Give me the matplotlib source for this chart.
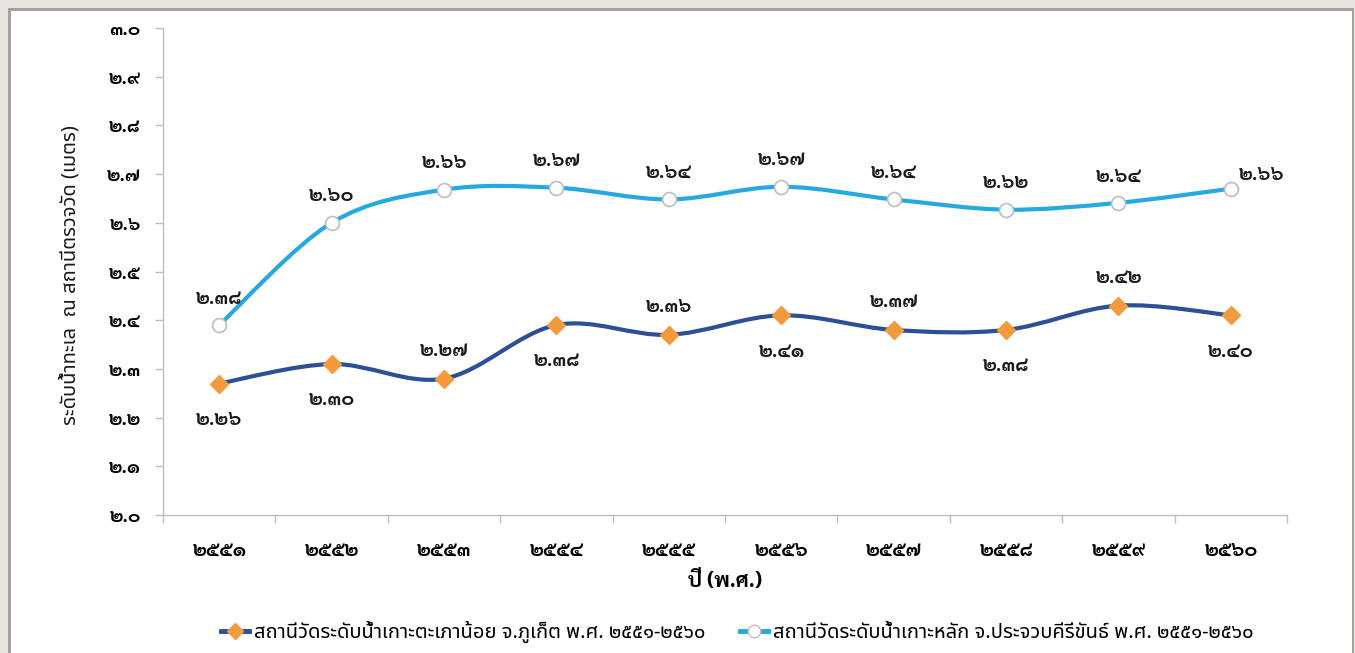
import matplotlib
matplotlib.use("Agg")
import matplotlib.pyplot as plt
import numpy as np
from matplotlib.path import Path
from matplotlib.patches import PathPatch, Rectangle
from matplotlib.lines import Line2D

# ---- data ----
years = ["๒๕๕๑", "๒๕๕๒", "๒๕๕๓", "๒๕๕๔", "๒๕๕๕", "๒๕๕๖", "๒๕๕๗", "๒๕๕๘", "๒๕๕๙", "๒๕๖๐"]
phuket = [2.27, 2.31, 2.28, 2.39, 2.37, 2.41, 2.38, 2.38, 2.43, 2.41]
phuket_labels = ["๒.๒๖", "๒.๓๐", "๒.๒๗", "๒.๓๘", "๒.๓๖", "๒.๔๑", "๒.๓๗", "๒.๓๘", "๒.๔๒", "๒.๔๐"]
prachuap = [2.39, 2.60, 2.668, 2.672, 2.648, 2.674, 2.648, 2.627, 2.641, 2.67]
prachuap_labels = ["๒.๓๘", "๒.๖๐", "๒.๖๖", "๒.๖๗", "๒.๖๔", "๒.๖๗", "๒.๖๔", "๒.๖๒", "๒.๖๔", "๒.๖๖"]
yticks = [2.0, 2.1, 2.2, 2.3, 2.4, 2.5, 2.6, 2.7, 2.8, 2.9, 3.0]
ytick_labels = ["๒.๐", "๒.๑", "๒.๒", "๒.๓", "๒.๔", "๒.๕", "๒.๖", "๒.๗", "๒.๘", "๒.๙", "๓.๐"]
series_names = ["สถานีวัดระดับน้ำเกาะตะเภาน้อย จ.ภูเก็ต พ.ศ. ๒๕๕๑-๒๕๖๐",
                "สถานีวัดระดับน้ำเกาะหลัก จ.ประจวบคีรีขันธ์ พ.ศ. ๒๕๕๑-๒๕๖๐"]
# label above (True) or below (False) the point for the Phuket series
phuket_above = [False, False, True, False, True, False, True, False, True, False]

DARK = "#2C4F95"
LIGHT = "#26A9E0"
ORANGE = "#F39A3D"
GRID = "#BFBFBF"
NUM_FONT = "Sarabun"
TXT_FONT = "Noto Sans Thai"


def smooth_path(x, y):
    # Excel-style smoothed line: cubic Bezier through the points
    x = np.asarray(x, float)
    y = np.asarray(y, float)
    verts = [(x[0], y[0])]
    codes = [Path.MOVETO]
    n = len(x)
    for i in range(n - 1):
        x0, y0 = (x[i - 1], y[i - 1]) if i > 0 else (x[i], y[i])
        x3, y3 = (x[i + 2], y[i + 2]) if i + 2 < n else (x[i + 1], y[i + 1])
        c1 = (x[i] + (x[i + 1] - x0) / 6, y[i] + (y[i + 1] - y0) / 6)
        c2 = (x[i + 1] - (x3 - x[i]) / 6, y[i + 1] - (y3 - y[i]) / 6)
        verts += [c1, c2, (x[i + 1], y[i + 1])]
        codes += [Path.CURVE4] * 3
    return Path(verts, codes)


fig = plt.figure(figsize=(13.55, 6.53), dpi=100)
fig.patch.set_facecolor("#E8E5E1")
# white panel with a soft shadow
fig.patches.append(Rectangle((8 / 1355, -0.05), 1346 / 1355, 1.05 - 8 / 653,
                             transform=fig.transFigure, facecolor="#A3A19F",
                             edgecolor="none", zorder=-3))
fig.patches.append(Rectangle((11 / 1355, -0.05), 1341 / 1355, 1.05 - 11 / 653,
                             transform=fig.transFigure, facecolor="white",
                             edgecolor="none", zorder=-2))

ax = fig.add_axes([163 / 1355, 1 - 515 / 653, (1287 - 163) / 1355, (515 - 28) / 653])
ax.set_facecolor("none")
xs = np.arange(len(years))

ax.add_patch(PathPatch(smooth_path(xs, phuket), facecolor="none", edgecolor=DARK,
                       lw=3, capstyle="round", zorder=3))
ax.add_patch(PathPatch(smooth_path(xs, prachuap), facecolor="none", edgecolor=LIGHT,
                       lw=3, capstyle="round", zorder=3))
ax.plot(xs, phuket, ls="none", marker="D", ms=9, mfc=ORANGE, mec=ORANGE, zorder=4)
ax.plot(xs, prachuap, ls="none", marker="o", ms=10, mfc="white", mec="#BDBDBD",
        mew=1.2, zorder=4)

for i, (v, lab) in enumerate(zip(phuket, phuket_labels)):
    dy = 20 if phuket_above[i] else -26
    ax.annotate(lab, (xs[i], v), xytext=(0, dy), textcoords="offset points",
                ha="center", va="center", fontsize=14, fontweight="bold",
                family=NUM_FONT, color="#1A1A1A")
for i, (v, lab) in enumerate(zip(prachuap, prachuap_labels)):
    dx, dy = (22, 10) if i == len(prachuap) - 1 else (0, 19)
    ax.annotate(lab, (xs[i], v), xytext=(dx, dy), textcoords="offset points",
                ha="center", va="center", fontsize=14, fontweight="bold",
                family=NUM_FONT, color="#1A1A1A")

ax.set_xlim(-0.5, len(years) - 0.5)
ax.set_ylim(2.0, 3.0)
ax.set_yticks(yticks)
ax.set_yticklabels(ytick_labels, family=NUM_FONT, fontweight="bold", fontsize=13.5)
ax.set_xticks(xs)
ax.set_xticklabels(years, family=NUM_FONT, fontweight="bold", fontsize=14)
ax.set_xticks(np.arange(-0.5, len(years)), minor=True)
ax.tick_params(axis="x", which="major", length=0, pad=19)
ax.tick_params(axis="x", which="minor", length=6, color=GRID, width=1)
ax.tick_params(axis="y", length=6, color=GRID, width=1, pad=10)
for s in ["top", "right"]:
    ax.spines[s].set_visible(False)
for s in ["left", "bottom"]:
    ax.spines[s].set_color(GRID)
    ax.spines[s].set_linewidth(1)

ax.set_xlabel("ปี (พ.ศ.)", family=NUM_FONT, fontweight="bold", fontsize=15, labelpad=8)
fig.text(70 / 1355, 1 - 275 / 653, "ระดับน้ำทะเล  ณ สถานีตรวจวัด (เมตร)", rotation=90,
         ha="center", va="center", family=TXT_FONT, fontsize=14.5, color="#1A1A1A")

handles = [
    Line2D([], [], color=DARK, lw=3.5, marker="D", ms=8, mfc=ORANGE, mec=ORANGE),
    Line2D([], [], color=LIGHT, lw=3.5, marker="o", ms=9, mfc="white", mec="#BDBDBD"),
]
fig.legend(handles, series_names, loc="center", bbox_to_anchor=(737 / 1355, 1 - 632 / 653),
           ncol=2, frameon=False, handlelength=1.4, handletextpad=0.25, columnspacing=1.7,
           prop={"family": TXT_FONT, "size": 14.5})

fig.savefig("out.png", dpi=100, facecolor=fig.get_facecolor())
